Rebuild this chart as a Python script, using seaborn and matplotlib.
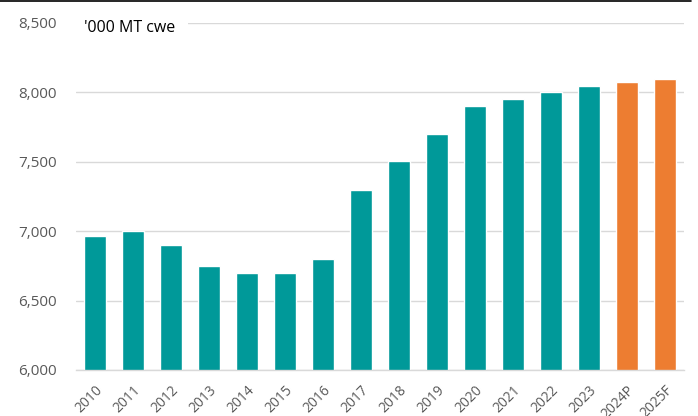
import matplotlib
matplotlib.use("Agg")
import matplotlib.pyplot as plt
import seaborn as sns
import pandas as pd
from matplotlib.ticker import FixedLocator, FuncFormatter
from matplotlib.patches import Rectangle

years = ["2010", "2011", "2012", "2013", "2014", "2015", "2016", "2017", "2018",
         "2019", "2020", "2021", "2022", "2023", "2024P", "2025F"]
values = [6965, 7000, 6900, 6750, 6700, 6700, 6800, 7300, 7505,
          7700, 7900, 7950, 8000, 8045, 8075, 8100]
kind = ["actual"] * 14 + ["forecast"] * 2
y_ticks = [6000, 6500, 7000, 7500, 8000, 8500]
unit_label = "'000 MT cwe"

teal = "#009999"
orange = "#ED7D31"
colors = [teal if k == "actual" else orange for k in kind]

df = pd.DataFrame({"year": years, "value": values})

sns.set_style("white")
plt.rcParams["font.family"] = ["Open Sans", "DejaVu Sans"]

fig = plt.figure(figsize=(6.98, 4.16), dpi=100)
ax = fig.add_axes([76/698, 1 - 370/416, (684-76)/698, (370-23)/416])

sns.barplot(data=df, x="year", y="value", hue="year", palette=colors,
            legend=False, width=0.6, ax=ax, saturation=1)

ax.set_ylim(6000, 8500)
ax.set_xlim(-0.5, len(years) - 0.5)
ax.yaxis.set_major_locator(FixedLocator(y_ticks))
ax.yaxis.set_major_formatter(FuncFormatter(lambda v, p: f"{int(v):,}"))
ax.grid(axis="y", color="#d9d9d9", linewidth=1)
ax.set_axisbelow(True)
for s in ["top", "right", "left"]:
    ax.spines[s].set_visible(False)
ax.spines["bottom"].set_color("#d9d9d9")
ax.spines["bottom"].set_linewidth(1)

ax.set_xlabel("")
ax.set_ylabel("")
ax.tick_params(axis="y", length=0, labelsize=11, labelcolor="#595959", pad=14)
ax.tick_params(axis="x", which="major", length=0, labelsize=10, labelcolor="#595959", pad=9)
ax.set_xticks(range(len(years)))
ax.set_xticklabels(years, rotation=45, ha="right", va="top", rotation_mode="anchor")
ax.set_xticks([i - 0.5 for i in range(len(years) + 1)], minor=True)
ax.tick_params(axis="x", which="minor", length=5, color="#d9d9d9", width=1)

# white band hiding the top gridline behind the unit label
fig.add_artist(Rectangle((76/698, 1 - 30/416), (188-76)/698, 14/416,
                         transform=fig.transFigure, facecolor="white",
                         edgecolor="none", zorder=5))
fig.text(84/698, 1 - 28/416, unit_label, fontsize=11.5,
         color="black", va="center", ha="left", zorder=6)

fig.add_artist(plt.Line2D([0, 0.99], [0.998, 0.998], transform=fig.transFigure,
                          color="black", linewidth=1.2))

fig.savefig("out.png", dpi=100)
